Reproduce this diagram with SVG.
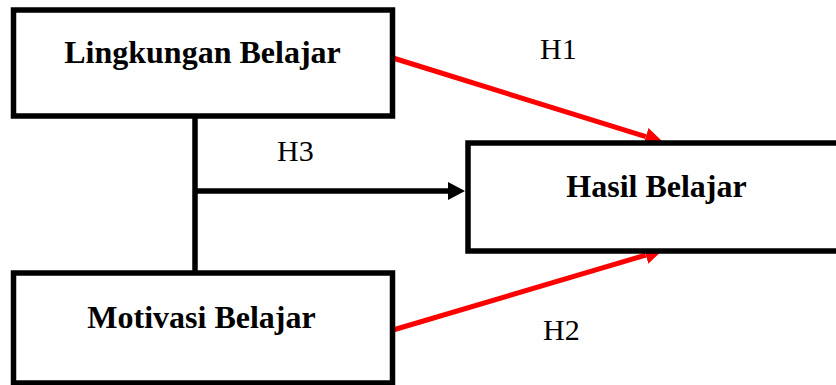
<svg xmlns="http://www.w3.org/2000/svg" width="836" height="385" viewBox="0 0 836 385">
<style>
.box{fill:#fff;stroke:#000;stroke-width:5.5}
.lbl{font-family:"Liberation Serif","Times New Roman",serif;font-weight:bold;font-size:32px;fill:#000;text-anchor:middle}
.h{font-family:"Liberation Serif","Times New Roman",serif;font-size:30px;fill:#000}
.red{stroke:#ff0000;stroke-width:5;fill:none}
.blk{stroke:#000;stroke-width:5.5;fill:none}
</style>
<defs>
<marker id="ar" markerUnits="userSpaceOnUse" markerWidth="18" markerHeight="18" refX="0" refY="9" orient="auto" viewBox="0 0 18 18"><path d="M0,0 L18,9 L0,18 z" fill="#ff0000"/></marker>
<marker id="ab" markerUnits="userSpaceOnUse" markerWidth="17" markerHeight="18" refX="0" refY="9" orient="auto" viewBox="0 0 17 18"><path d="M0,0 L17,9 L0,18 z" fill="#000"/></marker>
</defs>
<rect width="836" height="385" fill="#fff"/>
<g id="connectors">
<line class="blk" x1="195" y1="116" x2="195" y2="273"/>
<line class="blk" x1="195" y1="191" x2="448" y2="191" marker-end="url(#ab)"/>
<line class="red" x1="393" y1="58" x2="645.8" y2="136.7" marker-end="url(#ar)"/>
<line class="red" x1="393" y1="330" x2="645.7" y2="255.1" marker-end="url(#ar)"/>
</g>
<g id="lingkungan">
<rect class="box" x="13.5" y="10" width="379" height="106"/>
<text class="lbl" x="202.5" y="63">Lingkungan Belajar</text>
</g>
<g id="motivasi">
<rect class="box" x="13.5" y="273" width="379" height="110"/>
<text class="lbl" x="201.5" y="328">Motivasi Belajar</text>
</g>
<g id="hasil">
<rect class="box" x="468" y="143" width="372" height="108"/>
<text class="lbl" x="656.5" y="197">Hasil Belajar</text>
</g>
<g id="labels">
<text class="h" x="540" y="59">H1</text>
<text class="h" x="277" y="161">H3</text>
<text class="h" x="543" y="340">H2</text>
</g>
</svg>
